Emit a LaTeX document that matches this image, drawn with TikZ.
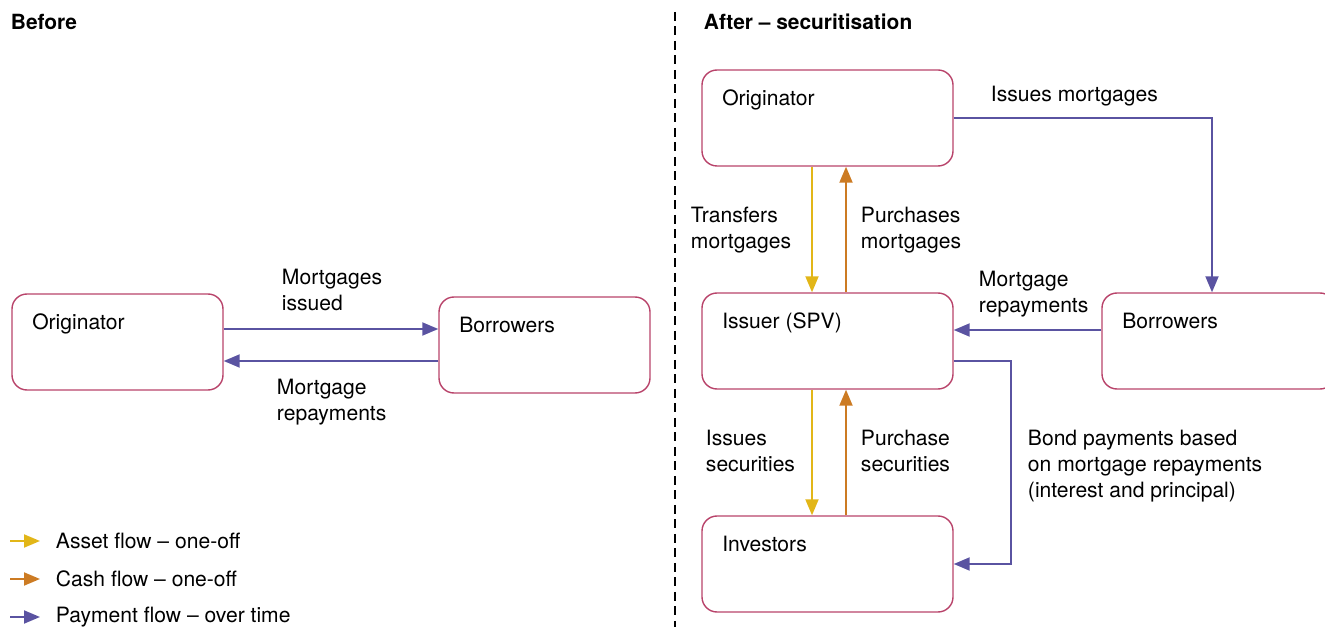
\documentclass[tikz,border=0pt]{standalone}
\usepackage{fontspec}
\setmainfont{TeX Gyre Heros}
\usepackage{tikz}
\usetikzlibrary{arrows.meta,positioning,calc}
\definecolor{boxred}{HTML}{B8436A}
\definecolor{paycol}{HTML}{5A53A1}
\definecolor{assetcol}{HTML}{E2B618}
\definecolor{cashcol}{HTML}{CC7B23}

\begin{document}
\begin{tikzpicture}[auto, line width=1.1pt, >={Triangle[length=0.32cm,width=0.26cm]},
  every node/.style={font=\fontsize{12}{14.8}\selectfont},
  party/.style={draw=boxred, line width=0.8pt, rounded corners=0.3cm, minimum height=1.92cm},
  partytext/.style={anchor=base west, inner sep=0pt},
  flowtext/.style={anchor=north west, inner sep=0pt, align=left},
  heading/.style={anchor=west, inner sep=0pt, font=\fontsize{11.9}{14.8}\selectfont\bfseries},
  pay/.style={draw=paycol, ->},
  asset/.style={draw=assetcol, ->},
  cash/.style={draw=cashcol, ->}]
\useasboundingbox (0,0) rectangle (26.5,-12.54);

% headings and divider
\node[heading] (before) at (0.2,-0.44) {Before};
\node[heading] (after) at (14.06,-0.44) {After -- securitisation};
\draw[line width=0.8pt, dash pattern=on 0.18cm off 0.11cm] (13.5,-0.24) -- (13.5,-12.54);

% before
\node[party, minimum width=4.22cm] (origL) at (2.35,-6.84) {};
\node[party, minimum width=4.22cm] (borrL) at (10.89,-6.90) {};
\node[partytext] (origLt) at ([shift={(0.4,-0.72)}]origL.north west) {Originator};
\node[partytext] (borrLt) at ([shift={(0.4,-0.72)}]borrL.north west) {Borrowers};

\draw[pay] ([yshift=0.26cm]origL.east) -- ([yshift=0.26cm]origL.east -| borrL.west);
\draw[pay] ([yshift=-0.32cm]borrL.west) -- ([yshift=-0.32cm]borrL.west -| origL.east);
\node[flowtext] (issuedL) at (5.62,-5.36) {Mortgages\\issued};
\node[flowtext] (repayL) at (5.52,-7.56) {Mortgage\\repayments};

% after
\node[party, minimum width=5.02cm] (origR) at (16.55,-2.36) {};
\node[party, minimum width=5.02cm] (issuer) at (16.55,-6.82) {};
\node[party, minimum width=5.02cm] (investors) at (16.55,-11.28) {};
\node[party, minimum width=4.66cm] (borrR) at (24.37,-6.82) {};
\node[partytext] (origRt) at ([shift={(0.4,-0.72)}]origR.north west) {Originator};
\node[partytext] (issuert) at ([shift={(0.4,-0.72)}]issuer.north west) {Issuer (SPV)};
\node[partytext] (investorst) at ([shift={(0.4,-0.72)}]investors.north west) {Investors};
\node[partytext] (borrRt) at ([shift={(0.4,-0.72)}]borrR.north west) {Borrowers};

\draw[pay] (origR.east) -| ([xshift=-0.13cm]borrR.north);
\draw[asset] ([xshift=-0.31cm]origR.south) -- ([xshift=-0.31cm]issuer.north);
\draw[cash] ([xshift=0.37cm]issuer.north) -- ([xshift=0.37cm]origR.south);
\draw[pay] ([yshift=0.22cm]borrR.west) -- ([yshift=0.22cm]borrR.west -| issuer.east);
\draw[pay] ([yshift=-0.4cm]issuer.east) -- ++(1.14,0) |- (investors.east);
\draw[asset] ([xshift=-0.31cm]issuer.south) -- ([xshift=-0.31cm]investors.north);
\draw[cash] ([xshift=0.37cm]investors.north) -- ([xshift=0.37cm]issuer.south);

\node[flowtext] (issuesmort) at (19.80,-1.70) {Issues mortgages};
\node[flowtext] (transfers) at (13.80,-4.12) {Transfers\\mortgages};
\node[flowtext] (purchases) at (17.20,-4.12) {Purchases\\mortgages};
\node[flowtext] (repayR) at (19.56,-5.40) {Mortgage\\repayments};
\node[flowtext] (issuessec) at (14.10,-8.58) {Issues\\securities};
\node[flowtext] (purchsec) at (17.20,-8.58) {Purchase\\securities};
\node[flowtext] (bond) at (20.54,-8.58) {Bond payments based\\on mortgage repayments\\(interest and principal)};

% legend
\node[partytext, anchor=west] (legA) at (1.10,-10.82) {Asset flow -- one-off};
\node[partytext, anchor=west] (legC) at (1.10,-11.58) {Cash flow -- one-off};
\node[partytext, anchor=west] (legP) at (1.10,-12.34) {Payment flow -- over time};
\draw[asset] ([xshift=-0.9cm]legA.west) -- ([xshift=-0.3cm]legA.west);
\draw[cash] ([xshift=-0.9cm]legC.west) -- ([xshift=-0.3cm]legC.west);
\draw[pay] ([xshift=-0.9cm]legP.west) -- ([xshift=-0.3cm]legP.west);
\end{tikzpicture}
\end{document}
